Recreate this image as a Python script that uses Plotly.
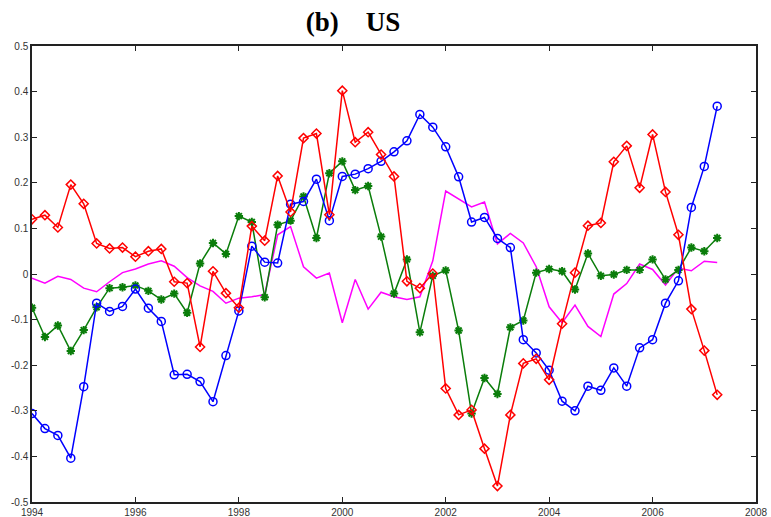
import numpy as np
import plotly.graph_objects as go

# Quarterly observations, 1994Q1 .. 2007Q2
years = [1994 + 0.25 * i for i in range(54)]

blue_series = [-0.306, -0.339, -0.354, -0.404, -0.247, -0.064, -0.082, -0.071, -0.033, -0.075,
               -0.104, -0.221, -0.220, -0.236, -0.280, -0.179, -0.081, 0.061, 0.026, 0.024,
               0.153, 0.159, 0.208, 0.117, 0.214, 0.219, 0.231, 0.247, 0.268, 0.292,
               0.350, 0.322, 0.279, 0.213, 0.114, 0.124, 0.078, 0.058, -0.144, -0.173,
               -0.211, -0.279, -0.300, -0.246, -0.255, -0.206, -0.246, -0.162, -0.144, -0.064,
               -0.015, 0.146, 0.236, 0.368]

red_series = [0.120, 0.129, 0.102, 0.196, 0.154, 0.067, 0.056, 0.058, 0.038, 0.050,
              0.055, -0.017, -0.020, -0.160, 0.006, -0.042, -0.074, 0.105, 0.073, 0.215,
              0.136, 0.298, 0.308, 0.130, 0.402, 0.289, 0.311, 0.262, 0.214, -0.016,
              -0.031, 0.001, -0.251, -0.309, -0.298, -0.383, -0.465, -0.309, -0.196, -0.186,
              -0.232, -0.109, 0.003, 0.106, 0.112, 0.246, 0.281, 0.189, 0.306, 0.180,
              0.086, -0.077, -0.168, -0.265]

green_series = [-0.074, -0.138, -0.113, -0.169, -0.123, -0.073, -0.031, -0.029, -0.025, -0.037,
                -0.056, -0.043, -0.085, 0.023, 0.068, 0.044, 0.127, 0.114, -0.051, 0.108,
                0.117, 0.170, 0.079, 0.221, 0.247, 0.184, 0.193, 0.082, -0.043, 0.032,
                -0.128, -0.004, 0.008, -0.124, -0.306, -0.228, -0.263, -0.117, -0.102, 0.003,
                0.011, 0.006, -0.034, 0.045, -0.004, -0.001, 0.009, 0.009, 0.032, -0.012,
                0.009, 0.058, 0.050, 0.079]

magenta_series = [-0.009, -0.020, -0.005, -0.012, -0.031, -0.039, -0.017, 0.003, 0.011, 0.022,
                  0.029, 0.017, -0.008, -0.026, -0.038, -0.064, -0.053, -0.050, -0.045, 0.086,
                  0.104, 0.016, -0.009, 0.002, -0.107, -0.012, -0.077, -0.040, -0.050, -0.056,
                  -0.050, 0.029, 0.182, 0.165, 0.147, 0.158, 0.066, 0.089, 0.068, 0.016,
                  -0.072, -0.107, -0.068, -0.115, -0.137, -0.044, -0.021, 0.022, 0.010, -0.024,
                  0.013, 0.007, 0.028, 0.025]

x_ticks = [1994, 1996, 1998, 2000, 2002, 2004, 2006, 2008]
y_ticks = [-0.5, -0.4, -0.3, -0.2, -0.1, 0, 0.1, 0.2, 0.3, 0.4, 0.5]
y_tick_text = ["-0.5", "-0.4", "-0.3", "-0.2", "-0.1", "0", "0.1", "0.2", "0.3", "0.4", "0.5"]

fig = go.Figure()

fig.add_trace(go.Scatter(
    x=years, y=magenta_series, mode="lines",
    line=dict(color="#FF00FF", width=1.5), showlegend=False))

fig.add_trace(go.Scatter(
    x=years, y=green_series, mode="lines+markers",
    line=dict(color="#0A7D0A", width=1.5),
    marker=dict(symbol="asterisk-open", size=7, color="#0A7D0A",
                line=dict(color="#0A7D0A", width=2)),
    showlegend=False))

fig.add_trace(go.Scatter(
    x=years, y=blue_series, mode="lines+markers",
    line=dict(color="#0000FF", width=1.5),
    marker=dict(symbol="circle-open", size=8, color="#0000FF",
                line=dict(color="#0000FF", width=1.5)),
    showlegend=False))

fig.add_trace(go.Scatter(
    x=years, y=red_series, mode="lines+markers",
    line=dict(color="#FF0000", width=1.5),
    marker=dict(symbol="diamond-open", size=7, color="#FF0000",
                line=dict(color="#FF0000", width=1.5)),
    showlegend=False))

axis_common = dict(
    showgrid=False, zeroline=False, automargin=False,
    showline=True, linecolor="#222222", linewidth=1.5,
    mirror="allticks", ticks="inside", ticklen=5, tickwidth=1,
    tickcolor="#222222",
    tickfont=dict(family="Liberation Sans, Arial, sans-serif", size=10, color="#333333"),
)

fig.update_xaxes(range=[1994, 2008], tickvals=x_ticks,
                 ticktext=[str(v) for v in x_ticks], **axis_common)
fig.update_yaxes(range=[-0.5, 0.5], tickvals=y_ticks, ticktext=y_tick_text,
                 **axis_common)

fig.update_layout(
    width=771, height=517,
    margin=dict(l=32, r=15, t=46, b=15),
    paper_bgcolor="white", plot_bgcolor="white",
    title=dict(
        text="<b>(b)&nbsp;&nbsp;&nbsp;&nbsp;US</b>",
        x=0.458, xanchor="center", y=0.958, yanchor="middle",
        font=dict(family="Liberation Serif, Times New Roman, serif", size=27, color="black"),
    ),
)

fig.write_html("out.html")
